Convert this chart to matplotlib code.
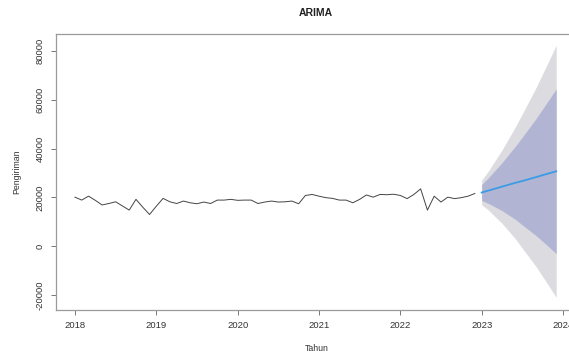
import numpy as np
import matplotlib.pyplot as plt

plt.rcParams['font.family'] = ['Liberation Sans', 'DejaVu Sans']

# pengiriman bulanan Jan 2018 - Des 2022
pengiriman = [
    20100, 18900, 20500, 18800, 16900, 17500, 18200, 16500, 14800, 19200, 16000, 13000,
    16400, 19600, 18200, 17500, 18500, 17800, 17400, 18100, 17500, 18900, 18900, 19200,
    18800, 18900, 18900, 17500, 18100, 18500, 18100, 18200, 18500, 17400, 20800, 21200,
    20500, 19900, 19600, 18900, 18900, 17800, 19200, 21000, 20100, 21200, 21100, 21300,
    20800, 19500, 21200, 23500, 14800, 20500, 18100, 20100, 19500, 19900, 20500, 21600,
]

# ramalan Jan 2023 - Des 2023
ramalan = [22000, 22800, 23600, 24400, 25200, 26000, 26700, 27500, 28300, 29100, 29900, 30700]
lo80 = [18730, 17570, 16080, 14600, 12780, 10970, 8730, 6580, 4440, 1980, -490, -3030]
hi80 = [25270, 28030, 31120, 34200, 37620, 41030, 44670, 48420, 52160, 56220, 60290, 64430]
lo95 = [17000, 14800, 12100, 9400, 6200, 3000, -800, -4500, -8200, -12400, -16600, -20900]
hi95 = [27000, 30800, 35100, 39400, 44200, 49000, 54200, 59500, 64800, 70600, 76400, 82300]

t_data = 2018 + np.arange(len(pengiriman)) / 12
t_fc = 2023 + np.arange(len(ramalan)) / 12

fig = plt.figure(figsize=(5.69, 3.53), dpi=100)
ax = fig.add_axes([55.7 / 569, 43 / 353, 519.8 / 569, 276 / 353])

ax.fill_between(t_fc, lo95, hi95, color='#DBDBE0', linewidth=0)
ax.fill_between(t_fc, lo80, hi80, color='#B1B5D3', linewidth=0)
ax.plot(t_fc, ramalan, color='#3B9BE5', linewidth=1.3)
ax.plot(t_data, pengiriman, color='#444444', linewidth=0.7)

ax.set_xlim(2017.763, 2024.154)
ax.set_ylim(-26100, 86900)
ax.set_xticks([2018, 2019, 2020, 2021, 2022, 2023, 2024])
ax.set_xticklabels(['2018', '2019', '2020', '2021', '2022', '2023', '2024'])
ax.set_yticks([-20000, 0, 20000, 40000, 60000, 80000])
ax.set_yticklabels(['-20000', '0', '20000', '40000', '60000', '80000'], rotation=90, va='center')

for s in ax.spines.values():
    s.set_color('#9A9A9A')
    s.set_linewidth(0.9)
ax.tick_params(length=3.6, width=0.7, color='#777777', labelsize=6.8, labelcolor='#333333', pad=4.5)

ax.set_xlabel('Tahun', fontsize=6.3, color='#333333')
ax.set_ylabel('Pengiriman', fontsize=6.3, color='#333333')
ax.xaxis.set_label_coords((316.5 - 55.7) / 519.8, (310 - 348.5) / 276)
ax.yaxis.set_label_coords((17 - 55.7) / 519.8, (310 - 172) / 276)
ax.xaxis.label.set_va('center')
ax.yaxis.label.set_va('center')

fig.text(315.7 / 569, 1 - 12.5 / 353, 'ARIMA', fontsize=7.5, fontweight='bold',
         ha='center', va='center', color='#222222')

fig.savefig('out.png', dpi=100)
